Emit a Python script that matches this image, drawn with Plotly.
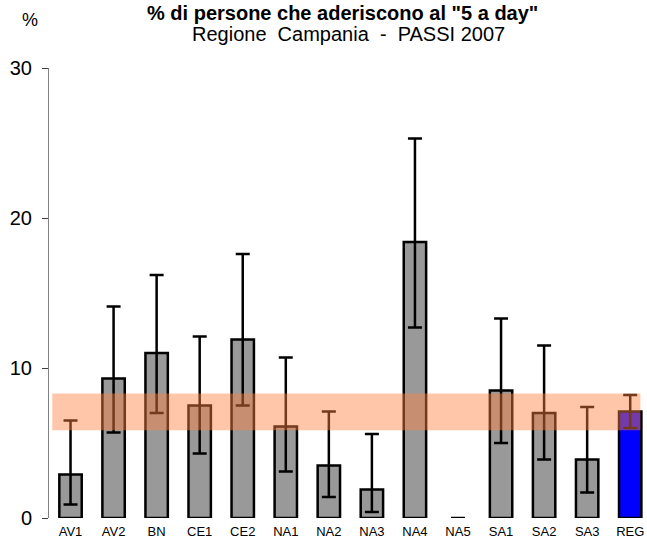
import plotly.graph_objects as go

categories = ["AV1", "AV2", "BN", "CE1", "CE2", "NA1", "NA2", "NA3", "NA4", "NA5", "SA1", "SA2", "SA3", "REG"]
values =     [2.9, 9.3, 11.0, 7.5, 11.9, 6.1, 3.5, 1.9, 18.4, 0.0, 8.5, 7.0, 3.9, 7.1]
ci_low =     [0.9, 5.7, 7.0, 4.3, 7.5, 3.1, 1.4, 0.4, 12.7, 0.0, 5.0, 3.9, 1.7, 6.0]
ci_high =    [6.5, 14.1, 16.2, 12.1, 17.6, 10.7, 7.1, 5.6, 25.3, 0.0, 13.3, 11.5, 7.4, 8.2]
band_low = 5.85
band_high = 8.3
y_ticks = [0, 10, 20, 30]

FONT = "Arial, Liberation Sans, sans-serif"
colors = ["#999999"] * (len(categories) - 1) + ["#0000FF"]
line_w = [0 if v == 0 else 2.5 for v in values]

err_plus = [h - v for h, v in zip(ci_high, values)]
err_minus = [v - l for v, l in zip(values, ci_low)]

fig = go.Figure()
fig.add_trace(go.Bar(
    x=categories, y=values, width=0.52,
    marker=dict(color=colors, line=dict(color="black", width=line_w)),
    error_y=dict(type="data", symmetric=False, array=err_plus, arrayminus=err_minus,
                 color="black", thickness=2.5, width=7),
    showlegend=False, hoverinfo="skip",
))

fig.add_shape(type="rect", xref="paper", yref="y", x0=0.0055, x1=0.989,
              y0=band_low, y1=band_high, fillcolor="rgba(255,128,64,0.45)",
              line=dict(width=0), layer="above")

fig.update_layout(
    width=647, height=545,
    margin=dict(l=49, r=0, t=68, b=27),
    paper_bgcolor="white", plot_bgcolor="white",
    font=dict(family=FONT, color="black"),
    xaxis=dict(range=[-0.5, 13.39], showline=False, ticks="", showgrid=False,
               tickfont=dict(size=13, family=FONT), zeroline=False, automargin=False,
               ticklabelstandoff=4),
    yaxis=dict(range=[0, 30], tickvals=y_ticks, showline=True, linecolor="#808080",
               linewidth=1, ticks="outside", ticklen=6, tickcolor="#404040",
               tickfont=dict(size=20, family=FONT), showgrid=False, zeroline=False,
               ticklabelstandoff=6, automargin=False),
    annotations=[
        dict(text="<b>% di persone che aderiscono al \"5 a day\"</b>", xref="paper", yref="paper",
             x=0.49, y=1.123, xanchor="center", yanchor="middle", showarrow=False,
             font=dict(size=20, family=FONT)),
        dict(text="Regione  Campania  -  PASSI 2007", xref="paper", yref="paper",
             x=0.5, y=1.076, xanchor="center", yanchor="middle", showarrow=False,
             font=dict(size=20, family=FONT)),
        dict(text="%", xref="paper", yref="paper", x=-0.032, y=1.107,
             xanchor="center", yanchor="middle", showarrow=False,
             font=dict(size=18, family=FONT)),
    ],
)

fig.write_html("out.html", config={"displayModeBar": False},
               post_script="document.body.style.margin='0';")
